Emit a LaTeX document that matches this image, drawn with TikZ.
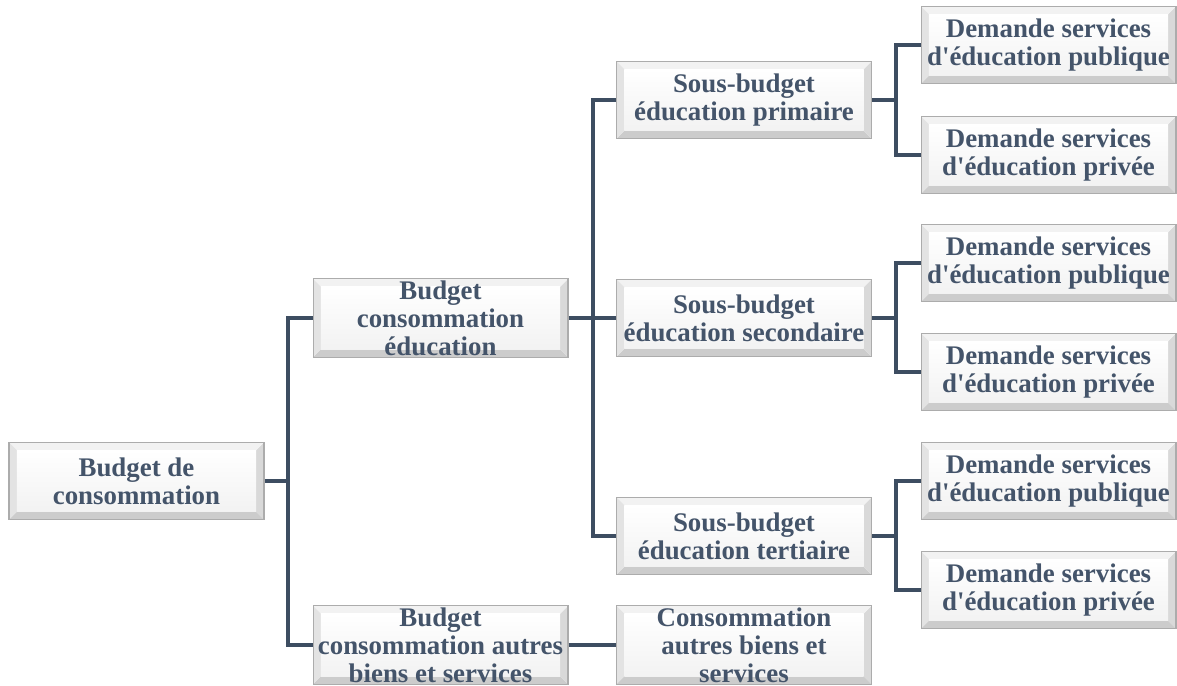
\documentclass[tikz,border=0pt]{standalone}
\usepackage{fontspec}
\setmainfont{Liberation Serif}
\usepackage{xcolor}
\usepackage{tikz}
\definecolor{inkblue}{HTML}{44546A}
\definecolor{linkblue}{HTML}{3D4D61}

\tikzset{
    bevelbox/.style={draw=gray!65, line width=0.6pt, fill=white,
        minimum width=5.1cm, minimum height=1.54cm, inner sep=1pt,
        align=center, text=inkblue, font=\bfseries\fontsize{15.3}{15.9}\selectfont,
        path picture={
            \path (path picture bounding box.south west) coordinate (o1)
                  (path picture bounding box.south east) coordinate (o2)
                  (path picture bounding box.north east) coordinate (o3)
                  (path picture bounding box.north west) coordinate (o4)
                  ([shift={(4.5pt,4.5pt)}]path picture bounding box.south west) coordinate (i1)
                  ([shift={(-4.5pt,4.5pt)}]path picture bounding box.south east) coordinate (i2)
                  ([shift={(-4.5pt,-4.5pt)}]path picture bounding box.north east) coordinate (i3)
                  ([shift={(4.5pt,-4.5pt)}]path picture bounding box.north west) coordinate (i4);
            \fill[gray!40] (o1) -- (o2) -- (i2) -- (i1) -- cycle;
            \fill[gray!30] (o2) -- (o3) -- (i3) -- (i2) -- cycle;
            \fill[gray!10] (o3) -- (o4) -- (i4) -- (i3) -- cycle;
            \fill[gray!22] (o4) -- (o1) -- (i1) -- (i4) -- cycle;
            \shade[top color=white, bottom color=gray!10] (i1) rectangle (i3);
        }},
    link/.style={linkblue, line width=2.3pt}
}

\begin{document}
\begin{tikzpicture}[x=0.02cm, y=-0.02cm]
    \useasboundingbox (0,0) rectangle (1177,686);

    \node[bevelbox] (root) at (136.5,481) {Budget de\\consommation};

    \node[bevelbox] (edu) at (440.5,318) {Budget\\consommation\\éducation};
    \node[bevelbox] (oth) at (440.5,645) {Budget\\consommation autres\\biens et services};

    \node[bevelbox] (prim) at (744,100) {Sous-budget\\éducation primaire};
    \node[bevelbox] (sec) at (744,318) {Sous-budget\\éducation secondaire};
    \node[bevelbox] (tert) at (744,536) {Sous-budget\\éducation tertiaire};
    \node[bevelbox] (autc) at (744,645) {Consommation\\autres biens et\\services};

    \foreach \nm/\y/\txt in {pub1/45/publique, prv1/155/privée, pub2/263/publique,
                             prv2/372/privée, pub3/481/publique, prv3/590/privée}
        \node[bevelbox] (\nm) at (1048.5,\y) {Demande services\\d\textquotesingle éducation \txt};

    \coordinate (f1) at (288,481);
    \coordinate (f2) at (593,318);
    \coordinate (f3) at (896,100);
    \coordinate (f4) at (896,318);
    \coordinate (f5) at (896,536);

    \draw[link] (root.east) -- (f1) |- (edu.west);
    \draw[link] (f1) |- (oth.west);

    \draw[link] (edu.east) -- (f2) |- (prim.west);
    \draw[link] (f2) |- (sec.west);
    \draw[link] (f2) |- (tert.west);
    \draw[link] (oth.east) -- (autc.west);

    \foreach \src/\f/\a/\b in {prim/f3/pub1/prv1, sec/f4/pub2/prv2, tert/f5/pub3/prv3} {
        \draw[link] (\src.east) -- (\f);
        \draw[link] (\f) |- (\a.west);
        \draw[link] (\f) |- (\b.west);
    }
\end{tikzpicture}
\end{document}
